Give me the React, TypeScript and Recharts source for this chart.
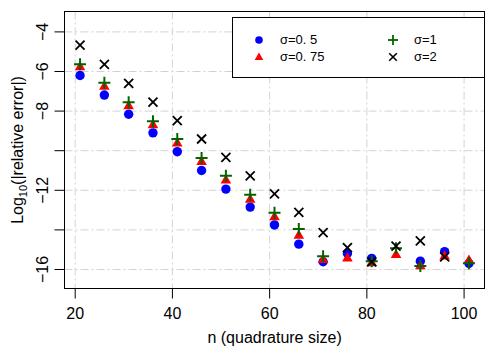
import { CartesianGrid, Legend, Scatter, ScatterChart, XAxis, YAxis } from "recharts";

const nValues = [21, 26, 31, 36, 41, 46, 51, 56, 61, 66, 71, 76, 81, 86, 91, 96, 101];
const sigma05 = [-6.2, -7.19, -8.16, -9.1, -10.05, -11.0, -11.94, -12.85, -13.75, -14.72, -15.61, -15.19, -15.44, null, -15.58, -15.1, -15.69];
const sigma075 = [-5.75, -6.74, -7.72, -8.68, -9.61, -10.54, -11.47, -12.45, -13.33, -14.26, -15.49, -15.41, -15.65, -15.24, -15.8, -15.31, -15.53];
const sigma1 = [-5.64, -6.57, -7.55, -8.51, -9.41, -10.37, -11.27, -12.23, -13.13, -13.95, -15.33, null, -15.58, -14.93, -15.82, null, -15.69];
const sigma2 = [-4.67, -5.64, -6.6, -7.55, -8.48, -9.41, -10.34, -11.27, -12.18, -13.11, -14.14, -14.9, -15.61, -14.82, -14.55, -15.36, null];

const xTicks = [20, 40, 60, 80, 100];
const yTicks = [-16, -14, -12, -10, -8, -6, -4];
const yLabelled = [-16, -12, -8, -6, -4];
const xDomain = [17.8, 104.2];
const yDomain = [-16.96, -2.97];

const FONT = "'Liberation Sans', Arial, Helvetica, sans-serif";
const GREEN = "#006400";

// plot frame (pixels)
const PL = 64.5;
const PT = 11.5;
const PR = 484.5;
const PB = 288.5;

const toPoints = (vals: (number | null)[]) =>
  nValues.map((n, i) => ({ n, v: vals[i] })).filter((d) => d.v !== null);

const ok = (p: any) => Number.isFinite(p.cx) && Number.isFinite(p.cy);

const Dot = (p: any) => (ok(p) ? <circle cx={p.cx} cy={p.cy} r={4.7} fill="#0000FF" /> : <g />);
const Tri = (p: any) =>
  ok(p) ? (
    <polygon
      points={`${p.cx},${p.cy - 5.6} ${p.cx - 5.3},${p.cy + 3.6} ${p.cx + 5.3},${p.cy + 3.6}`}
      fill="#FF0000"
    />
  ) : (
    <g />
  );
const Plus = (p: any) =>
  ok(p) ? (
    <g stroke={GREEN} strokeWidth={2}>
      <line x1={p.cx - 6} y1={p.cy} x2={p.cx + 6} y2={p.cy} />
      <line x1={p.cx} y1={p.cy - 6} x2={p.cx} y2={p.cy + 6} />
    </g>
  ) : (
    <g />
  );
const Cross = (p: any) =>
  ok(p) ? (
    <g stroke="#000" strokeWidth={1.8}>
      <line x1={p.cx - 4.5} y1={p.cy - 4.5} x2={p.cx + 4.5} y2={p.cy + 4.5} />
      <line x1={p.cx - 4.5} y1={p.cy + 4.5} x2={p.cx + 4.5} y2={p.cy - 4.5} />
    </g>
  ) : (
    <g />
  );

const XTick = (p: any) => (
  <text x={p.x} y={319} textAnchor="middle" fontSize={16} fontFamily={FONT} fill="#000">
    {p.payload.value}
  </text>
);

const YTick = (p: any) => {
  const v = p.payload.value;
  if (!yLabelled.includes(v)) return <g />;
  return (
    <text
      x={48.5}
      y={p.y}
      transform={`rotate(-90, 48.5, ${p.y})`}
      textAnchor="middle"
      fontSize={16}
      fontFamily={FONT}
      fill="#000"
    >
      {"\u2212" + Math.abs(v)}
    </text>
  );
};

const legendItems = [
  { label: "σ=0. 5", icon: "dot", col: 0, row: 0 },
  { label: "σ=0. 75", icon: "tri", col: 0, row: 1 },
  { label: "σ=1", icon: "plus", col: 1, row: 0 },
  { label: "σ=2", icon: "cross", col: 1, row: 1 },
];

const LegendIcon = ({ kind }: { kind: string }) => (
  <svg width={14} height={14} viewBox="-7 -7 14 14" style={{ display: "block" }}>
    {kind === "dot" && <circle r={3.8} fill="#0000FF" />}
    {kind === "tri" && <polygon points="0,-4.5 -4.3,3 4.3,3" fill="#FF0000" />}
    {kind === "plus" && (
      <g stroke={GREEN} strokeWidth={1.8}>
        <line x1={-5} y1={0} x2={5} y2={0} />
        <line x1={0} y1={-5} x2={0} y2={5} />
      </g>
    )}
    {kind === "cross" && (
      <g stroke="#000" strokeWidth={1.6}>
        <line x1={-3.8} y1={-3.8} x2={3.8} y2={3.8} />
        <line x1={-3.8} y1={3.8} x2={3.8} y2={-3.8} />
      </g>
    )}
  </svg>
);

const LegendBox = () => (
  <div
    style={{
      position: "relative",
      width: 253,
      height: 61,
      border: "1px solid #000",
      boxSizing: "border-box",
      background: "#fff",
      fontFamily: FONT,
      fontSize: 13,
      color: "#000",
    }}
  >
    {legendItems.map((it) => (
      <div key={it.label}>
        <div style={{ position: "absolute", left: 26 + it.col * 134 - 7, top: 22 + it.row * 17 - 7 }}>
          <LegendIcon kind={it.icon} />
        </div>
        <div
          style={{
            position: "absolute",
            left: 47 + it.col * 134,
            top: 22 + it.row * 17 - 8,
            lineHeight: "16px",
            whiteSpace: "pre",
          }}
        >
          {it.label}
        </div>
      </div>
    ))}
  </div>
);

export default function App() {
  return (
    <div style={{ position: "fixed", left: 0, top: 0, width: 498, height: 356, background: "#fff" }}>
      <ScatterChart width={498} height={356} margin={{ top: PT, right: 498 - PR, bottom: 0, left: 0 }}>
        <CartesianGrid stroke="#d3d3d3" strokeDasharray="8 3 2 3" />
        <XAxis
          type="number"
          dataKey="n"
          domain={xDomain}
          ticks={xTicks}
          allowDataOverflow
          height={356 - PB}
          tickSize={10}
          axisLine={{ stroke: "#000" }}
          tickLine={{ stroke: "#000" }}
          tick={<XTick />}
        />
        <YAxis
          type="number"
          dataKey="v"
          domain={yDomain}
          ticks={yTicks}
          allowDataOverflow
          width={PL}
          tickSize={10}
          axisLine={{ stroke: "#000" }}
          tickLine={{ stroke: "#000" }}
          tick={<YTick />}
        />
        <rect x={PL} y={PT} width={PR - PL} height={PB - PT} fill="none" stroke="#000" strokeWidth={1} />
        <Scatter data={toPoints(sigma05)} shape={<Dot />} isAnimationActive={false} />
        <Scatter data={toPoints(sigma075)} shape={<Tri />} isAnimationActive={false} />
        <Scatter data={toPoints(sigma1)} shape={<Plus />} isAnimationActive={false} />
        <Scatter data={toPoints(sigma2)} shape={<Cross />} isAnimationActive={false} />
        <Legend
          layout="horizontal"
          verticalAlign="middle"
          align="center"
          wrapperStyle={{ left: 232, top: 17, width: 253, height: 61 }}
          content={<LegendBox />}
        />
        <text x={274.6} y={343} textAnchor="middle" fontSize={16} fontFamily={FONT} fill="#000">
          n (quadrature size)
        </text>
        <text
          x={22.5}
          y={150}
          transform="rotate(-90, 22.5, 150)"
          textAnchor="middle"
          fontSize={16}
          fontFamily={FONT}
          fill="#000"
        >
          Log
          <tspan fontSize={11} dy={4}>
            10
          </tspan>
          <tspan dy={-4}>(|relative error|)</tspan>
        </text>
      </ScatterChart>
    </div>
  );
}
